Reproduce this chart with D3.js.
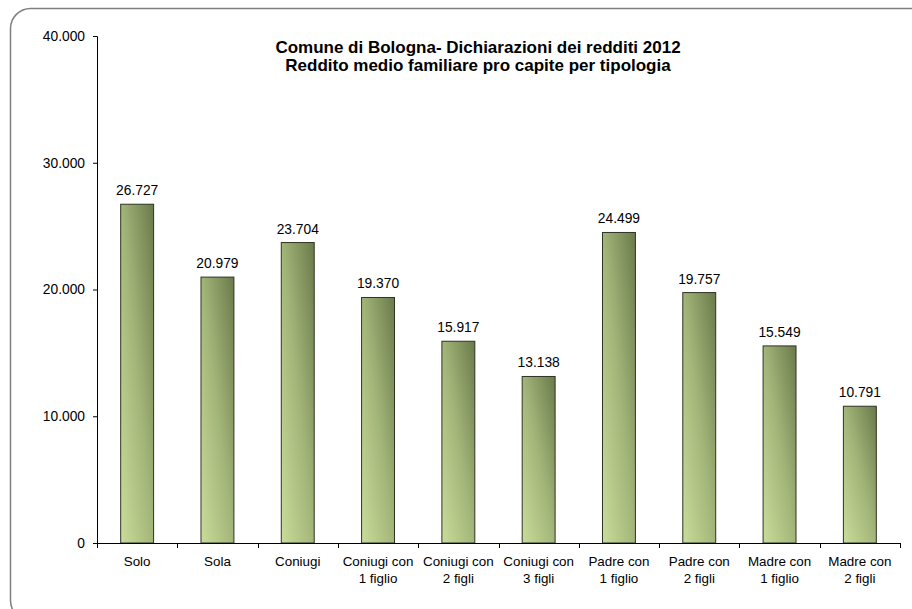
<!DOCTYPE html>
<html>
<head>
<meta charset="utf-8">
<script src="https://cdn.jsdelivr.net/npm/d3@7"></script>
<style>
  html, body { margin: 0; padding: 0; background: #fff; }
  svg { display: block; font-family: "Liberation Sans", Arial, sans-serif; }
</style>
</head>
<body>
<svg id="chart" width="912" height="609"></svg>
<script>
const categories = [
  ["Solo"], ["Sola"], ["Coniugi"],
  ["Coniugi con", "1 figlio"], ["Coniugi con", "2 figli"], ["Coniugi con", "3 figli"],
  ["Padre con", "1 figlio"], ["Padre con", "2 figli"],
  ["Madre con", "1 figlio"], ["Madre con", "2 figli"]
];
const values = [26727, 20979, 23704, 19370, 15917, 13138, 24499, 19757, 15549, 10791];
const yTicks = [0, 10000, 20000, 30000, 40000];
const titleLines = ["Comune di Bologna- Dichiarazioni dei redditi 2012",
                    "Reddito medio familiare pro capite per tipologia"];

const fmt = v => d3.format(",")(v).replace(/,/g, ".");

const svg = d3.select("#chart");

// outer frame
svg.append("rect")
  .attr("x", 10.5).attr("y", 8.5)
  .attr("width", 920).attr("height", 612)
  .attr("rx", 20).attr("ry", 20)
  .attr("fill", "#fff")
  .attr("stroke", "#7f7f7f").attr("stroke-width", 1.5);

const defs = svg.append("defs");
const grad = defs.append("linearGradient").attr("id", "barGrad")
  .attr("x1", 0).attr("y1", 1).attr("x2", 1).attr("y2", 0);
grad.append("stop").attr("offset", "0%").attr("stop-color", "#cadc9a");
grad.append("stop").attr("offset", "50%").attr("stop-color", "#a3b679");
grad.append("stop").attr("offset", "100%").attr("stop-color", "#6a7a4b");

const x = d3.scaleBand()
  .domain(d3.range(categories.length))
  .range([97, 900])
  .paddingInner(0.59).paddingOuter(0.295);

const y = d3.scaleLinear().domain([0, 40000]).range([543, 36]);

// bars
svg.append("g").selectAll("rect")
  .data(values)
  .join("rect")
  .attr("x", (d, i) => x(i))
  .attr("y", d => y(d))
  .attr("width", x.bandwidth())
  .attr("height", d => y(0) - y(d))
  .attr("fill", "url(#barGrad)")
  .attr("stroke", "#2f3322").attr("stroke-width", 1);

// value labels
svg.append("g").selectAll("text")
  .data(values)
  .join("text")
  .attr("x", (d, i) => x(i) + x.bandwidth() / 2)
  .attr("y", d => y(d) - 9)
  .attr("text-anchor", "middle")
  .attr("font-size", 13.8)
  .attr("fill", "#000")
  .text(d => fmt(d));

// y axis
const yAxis = d3.axisLeft(y).tickValues(yTicks).tickSize(4).tickPadding(8)
  .tickFormat(d => d === 0 ? "0" : fmt(d));
const gy = svg.append("g").attr("transform", "translate(97,0)").call(yAxis);
gy.select(".domain").attr("stroke", "#000");
gy.selectAll("line").attr("stroke", "#000");
gy.selectAll("text").attr("font-size", 13.8).attr("fill", "#000")
  .attr("font-family", "Liberation Sans, Arial, sans-serif");

// x axis line + ticks between categories
const gx = svg.append("g");
gx.append("line")
  .attr("x1", 97).attr("x2", 900)
  .attr("y1", y(0) + 0.5).attr("y2", y(0) + 0.5)
  .attr("stroke", "#000");
gx.selectAll("line.tk")
  .data(d3.range(categories.length + 1))
  .join("line").attr("class", "tk")
  .attr("x1", i => Math.round(97 + i * (803 / categories.length)) + 0.5)
  .attr("x2", i => Math.round(97 + i * (803 / categories.length)) + 0.5)
  .attr("y1", y(0)).attr("y2", y(0) + 5)
  .attr("stroke", "#000");

// category labels
const lbl = svg.append("g").selectAll("text")
  .data(categories)
  .join("text")
  .attr("text-anchor", "middle")
  .attr("font-size", 13.4)
  .attr("fill", "#000")
  .attr("transform", (d, i) => `translate(${x(i) + x.bandwidth() / 2},566)`);
lbl.selectAll("tspan")
  .data(d => d)
  .join("tspan")
  .attr("x", 0)
  .attr("dy", (d, j) => j === 0 ? 0 : 16.5)
  .text(d => d);

// title
svg.append("g").selectAll("text")
  .data(titleLines)
  .join("text")
  .attr("x", 478)
  .attr("y", (d, i) => 53 + i * 18)
  .attr("text-anchor", "middle")
  .attr("font-size", 17)
  .attr("font-weight", "bold")
  .attr("fill", "#000")
  .text(d => d);
</script>
</body>
</html>
